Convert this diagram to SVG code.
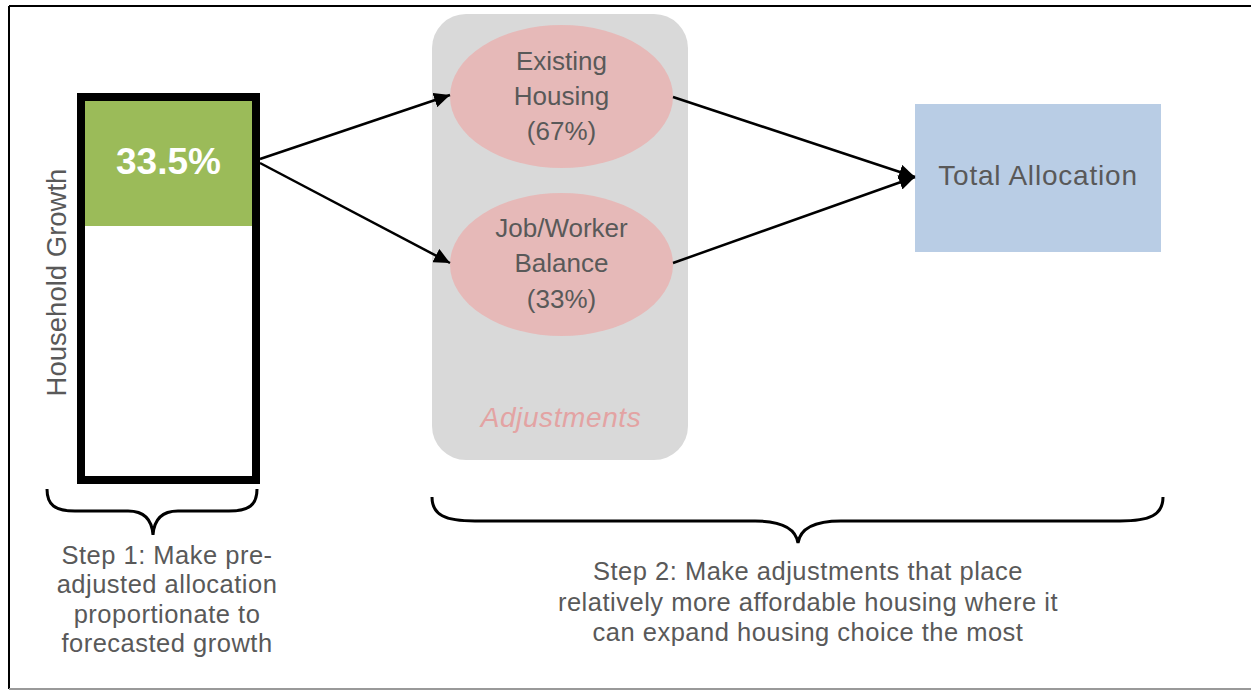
<svg xmlns="http://www.w3.org/2000/svg" width="1251" height="691" viewBox="0 0 1251 691">
<style>
.t{font-family:"Liberation Sans",Arial,sans-serif;fill:#595959;text-anchor:middle}
.step{font-size:25.5px;letter-spacing:0.5px}
.conn{stroke:#000;stroke-width:2.5;fill:none}
.brace{stroke:#000;stroke-width:3;fill:none}
</style>
<defs>
<marker id="ah" markerUnits="userSpaceOnUse" markerWidth="17" markerHeight="15" refX="16" refY="7.5" orient="auto">
<path d="M0,0 L16,7.5 L0,15 z" fill="#000"/>
</marker>
</defs>
<rect x="0" y="0" width="1251" height="691" fill="#fff"/>
<g id="frame">
<line x1="9" y1="6" x2="1251" y2="6" stroke="#000" stroke-width="2"/>
<line x1="9" y1="6" x2="9" y2="689" stroke="#000" stroke-width="2"/>
<line x1="9" y1="689" x2="1251" y2="689" stroke="#999" stroke-width="2"/>
</g>
<g id="adjustments-group">
<rect x="432" y="14" width="256" height="446" rx="34" ry="34" fill="#d9d9d9"/>
<text class="t" x="561" y="427" font-size="28" font-style="italic" letter-spacing="0.6" style="fill:#e3a3a3">Adjustments</text>
</g>
<g id="household-bar">
<rect x="85" y="101" width="167" height="125" fill="#9bbb59"/>
<rect x="81" y="97" width="175" height="383" fill="none" stroke="#000" stroke-width="8"/>
<text class="t" x="168.5" y="174" font-size="37" font-weight="bold" style="fill:#fff">33.5%</text>
<text class="t" x="0" y="0" font-size="27.5" transform="translate(66,282.5) rotate(-90)">Household Growth</text>
</g>
<g id="existing-housing">
<ellipse cx="561.5" cy="96.5" rx="111.5" ry="71.5" fill="#e6b9b8"/>
<text class="t" font-size="26"><tspan x="561.5" y="70">Existing</tspan><tspan x="561.5" y="105">Housing</tspan><tspan x="561.5" y="140">(67%)</tspan></text>
</g>
<g id="job-worker-balance">
<ellipse cx="561.5" cy="264.5" rx="111.5" ry="71.5" fill="#e6b9b8"/>
<text class="t" font-size="26"><tspan x="561.5" y="237">Job/Worker</tspan><tspan x="561.5" y="272">Balance</tspan><tspan x="561.5" y="308">(33%)</tspan></text>
</g>
<g id="total-allocation">
<rect x="915" y="104" width="246" height="148" fill="#b9cde5"/>
<text class="t" x="1038" y="185" font-size="28" letter-spacing="0.8">Total Allocation</text>
</g>
<g id="connectors">
<line class="conn" x1="260" y1="159" x2="450" y2="95" marker-end="url(#ah)"/>
<line class="conn" x1="260" y1="163" x2="450" y2="263" marker-end="url(#ah)"/>
<line class="conn" x1="673" y1="97" x2="915" y2="177" marker-end="url(#ah)"/>
<line class="conn" x1="673" y1="263" x2="915" y2="177" marker-end="url(#ah)"/>
</g>
<g id="step1">
<path class="brace" d="M47,489 C47,505 55,511 75,511 L128,511 C144,511 152,520 153,535 C154,520 162,511 178,511 L229,511 C249,511 257,505 257,489"/>
<text class="t step"><tspan x="167" y="564">Step 1: Make pre-</tspan><tspan x="167" y="593">adjusted allocation</tspan><tspan x="167" y="623">proportionate to</tspan><tspan x="167" y="652">forecasted growth</tspan></text>
</g>
<g id="step2">
<path class="brace" d="M432,497 C432,515 445,521 475,521 L755,521 C785,521 796,530 798,543 C800,530 811,521 841,521 L1120,521 C1150,521 1163,515 1163,497"/>
<text class="t step"><tspan x="808" y="580">Step 2: Make adjustments that place</tspan><tspan x="808" y="611">relatively more affordable housing where it</tspan><tspan x="808" y="641">can expand housing choice the most</tspan></text>
</g>
</svg>
